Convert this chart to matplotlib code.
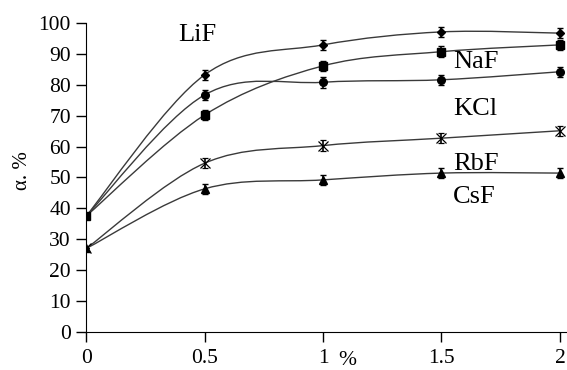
import numpy as np
import matplotlib.pyplot as plt
from matplotlib.path import Path
from matplotlib.patches import PathPatch

plt.rcParams['font.family'] = 'Liberation Serif'

# concentration, %
conc = [0, 0.5, 1, 1.5, 2]

# alpha, % for each salt
lif = [37.5, 83.2, 92.9, 97.1, 96.7]
naf = [37.5, 70.2, 86.1, 90.7, 92.9]
kcl = [37.5, 76.7, 80.8, 81.6, 84.2]
rbf = [27.0, 54.6, 60.3, 62.7, 65.1]
csf = [27.0, 46.3, 49.2, 51.4, 51.4]

errs = [0, 1.7, 1.7, 1.7, 1.7]

series = [
    (lif, 'D', 4.5),
    (kcl, 'o', 5.5),
    (naf, 's', 5.5),
    (rbf, 'x', 7),
    (csf, '^', 5.5),
]

labels = ['LiF', 'NaF', 'KCl', 'RbF', 'CsF']
label_pos = [(0.47, 96), (1.55, 87.2), (1.55, 72.3), (1.55, 54.2), (1.55, 43.6)]


def smooth_path(xs, ys):
    # Excel-like smoothed line: Catmull-Rom turned into cubic Bezier segments
    pts = list(zip(xs, ys))
    verts = [pts[0]]
    codes = [Path.MOVETO]
    n = len(pts)
    for i in range(n - 1):
        p0 = pts[i - 1] if i > 0 else pts[i]
        p1 = pts[i]
        p2 = pts[i + 1]
        p3 = pts[i + 2] if i + 2 < n else pts[i + 1]
        c1 = (p1[0] + (p2[0] - p0[0]) / 6, p1[1] + (p2[1] - p0[1]) / 6)
        c2 = (p2[0] - (p3[0] - p1[0]) / 6, p2[1] - (p3[1] - p1[1]) / 6)
        verts += [c1, c2, p2]
        codes += [Path.CURVE4] * 3
    return Path(verts, codes)


fig = plt.figure(figsize=(5.67, 3.70), dpi=100)
ax = fig.add_axes([0.152, 0.103, 0.848, 0.835])

for ys, mk, ms in series:
    ax.add_patch(PathPatch(smooth_path(conc, ys), fill=False,
                           edgecolor='#3a3a3a', lw=1.0))
    ax.errorbar(conc, ys, yerr=errs, fmt=mk, ms=ms, color='black',
                mec='black', mew=1.0 if mk != 'x' else 0.9,
                ecolor='black', elinewidth=1.2, capsize=2.5, capthick=1.0)

for txt, (x, y) in zip(labels, label_pos):
    ax.text(x, y, txt, fontsize=19, ha='left' if txt != 'LiF' else 'center',
            va='center')

ax.set_xlim(0, 2.03)
ax.set_ylim(0, 100)
ax.set_xticks(conc)
ax.set_xticklabels(['0', '0.5', '1', '1.5', '2'])
ax.set_yticks(range(0, 101, 10))
ax.spines['top'].set_visible(False)
ax.spines['right'].set_visible(False)
ax.tick_params(direction='out', length=7, width=1, labelsize=15.5, colors='black')
ax.tick_params(axis='x', pad=5)
ax.tick_params(axis='y', pad=4)

fig.text(0.612, 0.0, '%', fontsize=15.5, ha='center', va='bottom')
fig.text(0.04, 0.54, 'α. %', fontsize=15, rotation=90, ha='center', va='center')

fig.savefig('out.png', dpi=100)
